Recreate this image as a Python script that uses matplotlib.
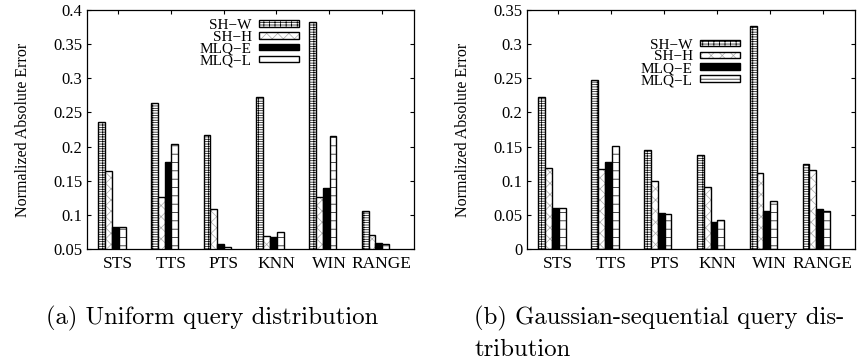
import numpy as np
import matplotlib
matplotlib.use('Agg')
import matplotlib.pyplot as plt
from matplotlib.ticker import FuncFormatter

plt.rcParams['font.family'] = ['Liberation Serif', 'DejaVu Serif']
plt.rcParams['hatch.linewidth'] = 0.5

categories = ['STS', 'TTS', 'PTS', 'KNN', 'WIN', 'RANGE']
series_names = ['SH\u2212W', 'SH\u2212H', 'MLQ\u2212E', 'MLQ\u2212L']

# (a) uniform query distribution
sh_w_uni = [0.236, 0.264, 0.217, 0.273, 0.383, 0.106]
sh_h_uni = [0.164, 0.126, 0.109, 0.069, 0.126, 0.071]
mlq_e_uni = [0.082, 0.178, 0.058, 0.067, 0.140, 0.059]
mlq_l_uni = [0.082, 0.204, 0.053, 0.075, 0.215, 0.057]

# (b) gaussian-sequential query distribution
sh_w_gau = [0.223, 0.247, 0.145, 0.137, 0.326, 0.125]
sh_h_gau = [0.119, 0.117, 0.099, 0.091, 0.111, 0.115]
mlq_e_gau = [0.060, 0.127, 0.053, 0.039, 0.055, 0.058]
mlq_l_gau = [0.060, 0.151, 0.051, 0.042, 0.070, 0.056]

# fill, hatch, hatch colour for each series
styles = [('white', '-------|||', 'black'),
          ('white', 'xxx', '#ababab'),
          ('black', '', 'black'),
          ('white', '--', 'black')]

fig = plt.figure(figsize=(8.61, 3.6), dpi=100)
ax1 = fig.add_axes([0.1007, 0.3083, 0.3801, 0.6639])
ax2 = fig.add_axes([0.6117, 0.3083, 0.3813, 0.6639])

panels = [(ax1, [sh_w_uni, sh_h_uni, mlq_e_uni, mlq_l_uni], (0.05, 0.4), 0.05, (0.649, 0.962)),
          (ax2, [sh_w_gau, sh_h_gau, mlq_e_gau, mlq_l_gau], (0.0, 0.35), 0.05, (0.650, 0.880))]

x = np.arange(len(categories))
w = 0.13
shift = -0.12

for ax, data, ylim, ystep, legpos in panels:
    handles = []
    for k, vals in enumerate(data):
        fc, hatch, hc = styles[k]
        pos = x + shift + (k - 1.5) * w
        # hatch layer then black outline on top
        b1 = ax.bar(pos, vals, w, color=fc, edgecolor=hc, hatch=hatch, linewidth=0)
        b2 = ax.bar(pos, vals, w, fill=False, edgecolor='black', linewidth=1.0)
        handles.append((b1[0], b2[0]))

    ax.set_xlim(-0.598, 5.61)
    ax.set_ylim(*ylim)
    ax.set_yticks(np.arange(ylim[0], ylim[1] + 1e-9, ystep))
    ax.yaxis.set_major_formatter(FuncFormatter(lambda v, p: '%g' % round(v, 3)))
    ax.set_xticks(x)
    ax.set_xticklabels(categories)
    ax.tick_params(axis='x', direction='in', top=True, bottom=True, length=3, width=0.8,
                   labelsize=12.5, pad=5)
    ax.tick_params(axis='y', direction='in', left=True, right=True, length=3, width=0.8,
                   labelsize=12, pad=3)
    for sp in ax.spines.values():
        sp.set_linewidth(0.9)
    ax.set_ylabel('Normalized Absolute Error', fontsize=11.5, labelpad=16)

    ax.legend(handles, series_names, loc='upper right', bbox_to_anchor=legpos,
              frameon=False, markerfirst=False, fontsize=11, handlelength=2.6,
              handleheight=0.29, handletextpad=0.5, labelspacing=-0.08,
              borderpad=0, borderaxespad=0)

# captions under the panels
fig.text(0.054, 1 - 324.5 / 360, '(a) Uniform query distribution', family='cmr10',
         fontsize=17.8, ha='left', va='baseline')
fig.text(0.551, 1 - 324.5 / 360, '(b) Gaussian-sequential query dis-', family='cmr10',
         fontsize=17.8, ha='left', va='baseline')
fig.text(0.551, 1 - 356.5 / 360, 'tribution', family='cmr10',
         fontsize=17.8, ha='left', va='baseline')

plt.savefig('out.png', dpi=100)
plt.close()
print('it is ok')
